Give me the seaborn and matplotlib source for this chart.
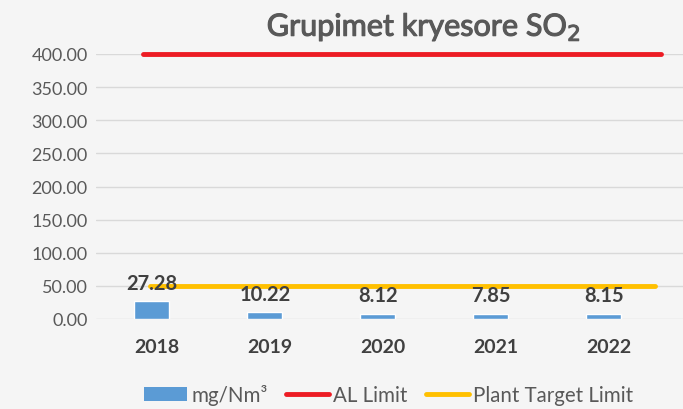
import matplotlib
matplotlib.use("Agg")
import matplotlib.pyplot as plt
import matplotlib.patheffects as pe
import seaborn as sns
import pandas as pd
from matplotlib.patches import Patch
from matplotlib.lines import Line2D

years = ["2018", "2019", "2020", "2021", "2022"]
so2_values = [27.28, 10.22, 8.12, 7.85, 8.15]
al_limit = 400
plant_target_limit = 50
y_ticks = [0, 50, 100, 150, 200, 250, 300, 350, 400]

sns.set_theme(style="white")
plt.rcParams['font.family'] = ['Lato', 'DejaVu Sans']

bg = "#F5F5F5"
fig = plt.figure(figsize=(6.83, 4.10), dpi=100, facecolor=bg)
ax = fig.add_axes([96/683, 1-320/410, 1-96/683, (320-55)/410])
ax.set_facecolor(bg)

df = pd.DataFrame({"year": years, "value": so2_values})
sns.barplot(data=df, x="year", y="value", color="#5B9BD5", width=0.31,
            saturation=1, ax=ax, zorder=2)
# shift bars slightly left as in reference
for p in ax.patches:
    p.set_x(p.get_x() - 0.045)

ax.set_xlim((96-157)/113, (683-157)/113)
ax.set_ylim(0, 400)
ax.set_yticks(y_ticks)
ax.set_yticklabels([f"{v:.2f}" for v in y_ticks], fontsize=13, color="#595959")
ax.set_xticks(range(len(years)))
ax.set_xticklabels(years, fontsize=14, fontweight="bold", color="#404040")
ax.tick_params(axis="x", length=0, pad=14)
ax.tick_params(axis="y", length=0, pad=6)
ax.set_xlabel("")
ax.set_ylabel("")
for s in ax.spines.values():
    s.set_visible(False)
ax.yaxis.grid(True, color="#D9D9D9", linewidth=1, zorder=0)
ax.set_axisbelow(True)

ax.hlines(al_limit, -0.124, 4.46, color="#ED1C24", linewidth=3.5,
          capstyle="round", zorder=4, clip_on=False)
ax.hlines(plant_target_limit, -0.06, 4.41, color="#FFC000", linewidth=3.5,
          capstyle="round", zorder=4)

for i, v in enumerate(so2_values):
    ax.annotate(f"{v:.2f}", (i - 0.045, v), xytext=(0, 6), textcoords="offset points",
                ha="center", va="bottom", fontsize=14.5, fontweight="bold",
                color="#404040", zorder=5)

title = fig.text(0.62, 0.932, "Grupimet kryesore SO$_2$", ha="center", va="center",
                 fontsize=22, color="#595959")
title.set_path_effects([pe.Stroke(linewidth=0.8, foreground="#595959"), pe.Normal()])

handles = [Patch(facecolor="#5B9BD5", edgecolor="none"),
           Line2D([0], [0], color="#ED1C24", linewidth=3.5),
           Line2D([0], [0], color="#FFC000", linewidth=3.5)]
labels = ["mg/Nm³", "AL Limit", "Plant Target Limit"]
leg = fig.legend(handles, labels, loc="center", bbox_to_anchor=(0.569, 0.035),
                 ncol=3, frameon=False, fontsize=14.8, handlelength=2.1,
                 handletextpad=0.2, columnspacing=0.9, borderpad=0)
for t in leg.get_texts():
    t.set_color("#595959")

fig.savefig("out.png", dpi=100, facecolor=bg)
